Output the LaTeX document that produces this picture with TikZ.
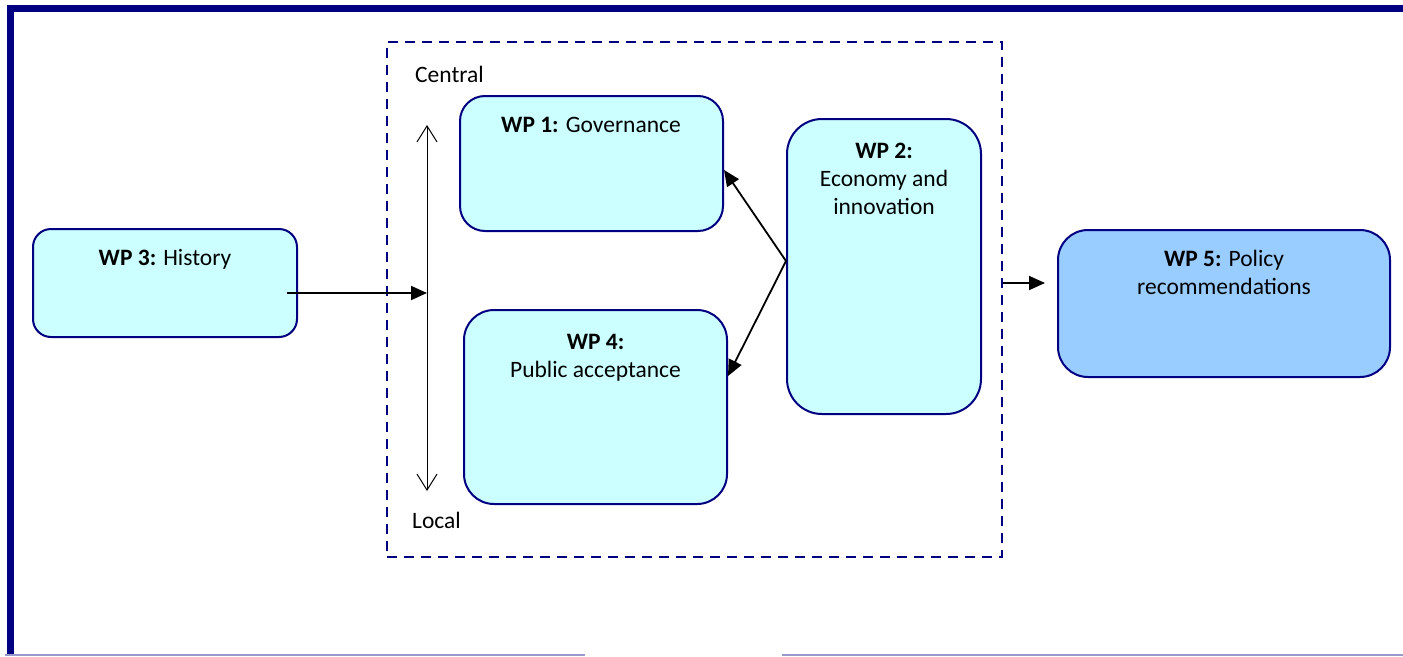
\documentclass[tikz,border=0pt]{standalone}
\usepackage{fontspec}
\setmainfont{Carlito}
\usetikzlibrary{arrows.meta,positioning}
\definecolor{navy}{RGB}{0,0,128}
\definecolor{wpfill}{RGB}{204,255,255}
\definecolor{wpblue}{RGB}{153,204,255}
\definecolor{rulegray}{RGB}{153,153,204}
\tikzset{
  wpbox/.style={draw=navy, line width=2pt, fill=wpfill, rounded corners=#1},
  wpbox/.default=25pt,
  wptext/.style={anchor=base, align=center, inner sep=0pt, font=\fontsize{23.5}{28}\selectfont},
  flow/.style={-{Triangle[length=16pt,width=14pt]}, line width=1.8pt},
  levelaxis/.style={{Straight Barb[length=16pt,width=20pt]}-{Straight Barb[length=16pt,width=20pt]}, line width=1pt},
}
\begin{document}
\begin{tikzpicture}[x=1pt,y=-1pt]
  \useasboundingbox (0,0) rectangle (1403,656);
  % page frame
  \draw[navy, line width=7pt] (7,8.5) -- (1403,8.5);
  \draw[navy, line width=7pt] (10.5,5) -- (10.5,655);
  \draw[rulegray, line width=2pt] (5,655) -- (585,655) (782,655) -- (1403,655);

  \node[draw=navy, line width=2.5pt, dash pattern=on 10pt off 7pt, minimum width=615pt, minimum height=515pt] (region) at (694.5,299.5) {};
  \node[wptext, anchor=base west] (central) at (415,82) {Central};
  \node[wptext, anchor=base west] (local) at (412,528) {Local};

  \node[wpbox=18pt, minimum width=264pt, minimum height=108pt] (wp3) at (165,283) {};
  \node[wpbox=25pt, minimum width=263pt, minimum height=135pt] (wp1) at (591.5,163.5) {};
  \node[wpbox=30pt, minimum width=263pt, minimum height=194pt] (wp4) at (595.5,407) {};
  \node[wpbox=35pt, minimum width=194pt, minimum height=295pt] (wp2) at (884,266.5) {};
  \node[wpbox=30pt, fill=wpblue, minimum width=332pt, minimum height=147pt] (wp5) at (1224,303.5) {};

  % multi-line texts sit on their last baseline
  \node[wptext] (wp3t) at (165,265) {\textbf{WP 3:} History};
  \node[wptext] (wp1t) at (591,132) {\textbf{WP 1:} Governance};
  \node[wptext] (wp4t) at (595.5,377) {\textbf{WP 4:}\\Public acceptance};
  \node[wptext] (wp2t) at (884,214) {\textbf{WP 2:}\\Economy and\\innovation};
  \node[wptext] (wp5t) at (1224,294) {\textbf{WP 5:} Policy\\recommendations};

  \coordinate (top) at (427,125);
  \coordinate (bottom) at (427,491);
  \coordinate (axis) at (427,293);
  \coordinate (wp3out) at (287,293);
  \coordinate (wp5in) at (1045,283);

  \draw[levelaxis] (top) -- (bottom);
  \path[flow]
    (wp3out) edge (axis)
    ([yshift=5.5pt]wp2.west) edge ([yshift=-6.5pt]wp1.east)
    ([yshift=5.5pt]wp2.west) edge ([yshift=31pt]wp4.east)
    ([yshift=16.5pt]region.east) edge (wp5in);
\end{tikzpicture}
\end{document}
